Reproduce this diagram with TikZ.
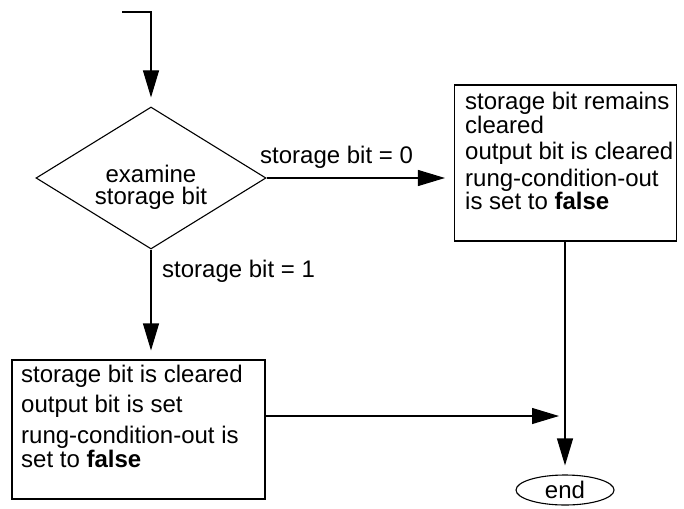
\documentclass[tikz,border=0pt]{standalone}
\usepackage{fontspec}
\setmainfont{Liberation Sans}
\usetikzlibrary{shapes.geometric,arrows.meta}
\begin{document}
\begin{tikzpicture}[x=1pt,y=-1pt,
  every node/.style={font=\fontsize{24}{24}\selectfont},
  line/.style={line width=1.1pt},
  arr/.style={line width=1.1pt,-{Triangle[length=27pt,width=16pt]},shorten >=9pt},
  boxshape/.style={draw,line width=1.1pt,rectangle,inner sep=0pt},
  txt/.style={anchor=base west,inner sep=0pt},
  ctxt/.style={anchor=base,inner sep=0pt}]
\useasboundingbox (0,0) rectangle (684,508);
% diamond
\node[draw,line width=1.1pt,diamond,minimum width=230pt,minimum height=142pt,inner sep=0pt] (dia) at (151,178) {};
\node[ctxt] (d1) at (151,182) {examine};
\node[ctxt] (d2) at (151,204) {storage bit};
% right box
\node[boxshape,minimum width=222pt,minimum height=156pt] (rbox) at (565.5,163) {};
\node[txt] (r1) at (465,110) {storage bit remains};
\node[txt] (r2) at (465,133) {cleared};
\node[txt] (r3) at (465,159) {output bit is cleared};
\node[txt] (r4) at (465,186) {rung-condition-out};
\node[txt] (r5) at (465,209) {is set to \textbf{false}};
% left box
\node[boxshape,minimum width=253pt,minimum height=139pt] (lbox) at (138.5,429.5) {};
\node[txt] (l1) at (21,382) {storage bit is cleared};
\node[txt] (l2) at (21,412) {output bit is set};
\node[txt] (l3) at (21,443) {rung-condition-out is};
\node[txt] (l4) at (21,467) {set to \textbf{false}};
% end
\node[draw,line width=1.1pt,ellipse,minimum width=98pt,minimum height=30pt,inner sep=0pt] (end) at (565,490) {};
\node[ctxt] (e1) at (565,498) {end};
% labels
\node[txt] (lab0) at (260,163) {storage bit = 0};
\node[txt] (lab1) at (162,277) {storage bit = 1};
% connectors
\coordinate (start) at (122,12);
\coordinate (join) at (565,416);
\draw[arr] (start) -| (dia.north);
\draw[arr] (dia.east) -- (dia.east -| rbox.west);
\draw[arr] (dia.south) -- (dia.south |- lbox.north);
\draw[arr] (end.north |- rbox.south) -- (end.north);
\draw[arr,shorten >=6pt] (lbox.east |- join) -- (join);
\end{tikzpicture}
\end{document}
